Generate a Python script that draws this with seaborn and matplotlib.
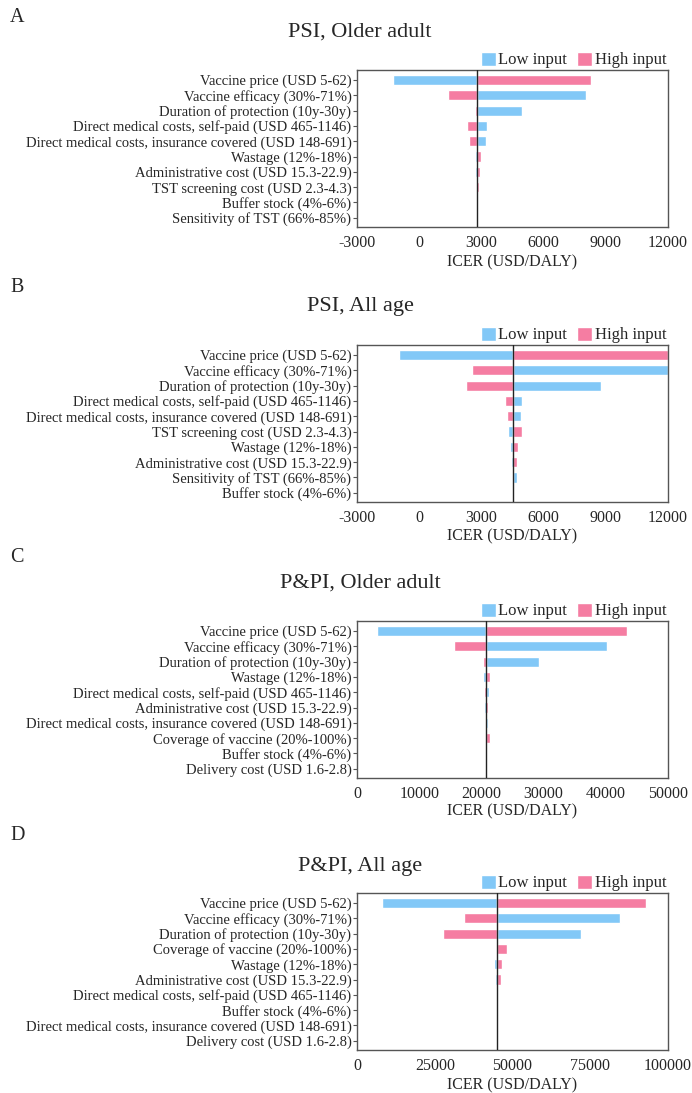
import matplotlib
matplotlib.use("Agg")
import matplotlib.pyplot as plt
import seaborn as sns
import numpy as np

sns.set_theme(style="white")
plt.rcParams['font.family'] = ['Liberation Serif', 'DejaVu Serif']

# ---------------- data ----------------
titles = ["PSI, Older adult", "PSI, All age", "P&PI, Older adult", "P&PI, All age"]
letters = ["A", "B", "C", "D"]

labels_a = ["Vaccine price (USD 5-62)", "Vaccine efficacy (30%-71%)", "Duration of protection (10y-30y)",
            "Direct medical costs, self-paid (USD 465-1146)", "Direct medical costs, insurance covered (USD 148-691)",
            "Wastage (12%-18%)", "Administrative cost (USD 15.3-22.9)", "TST screening cost (USD 2.3-4.3)",
            "Buffer stock (4%-6%)", "Sensitivity of TST (66%-85%)"]
base_a = 2810
low_a = [-1250, 8030, 4960, 3290, 3200, 2680, 2700, 2780, 2790, 2830]
high_a = [8270, 1380, 2680, 2310, 2390, 2970, 2930, 2880, 2860, 2800]

labels_b = ["Vaccine price (USD 5-62)", "Vaccine efficacy (30%-71%)", "Duration of protection (10y-30y)",
            "Direct medical costs, self-paid (USD 465-1146)", "Direct medical costs, insurance covered (USD 148-691)",
            "TST screening cost (USD 2.3-4.3)", "Wastage (12%-18%)", "Administrative cost (USD 15.3-22.9)",
            "Sensitivity of TST (66%-85%)", "Buffer stock (4%-6%)"]
base_b = 4530
low_b = [-990, 12000, 8790, 4980, 4900, 4300, 4380, 4430, 4720, 4500]
high_b = [12000, 2550, 2275, 4140, 4220, 4945, 4750, 4720, 4480, 4580]

labels_c = ["Vaccine price (USD 5-62)", "Vaccine efficacy (30%-71%)", "Duration of protection (10y-30y)",
            "Wastage (12%-18%)", "Direct medical costs, self-paid (USD 465-1146)", "Administrative cost (USD 15.3-22.9)",
            "Direct medical costs, insurance covered (USD 148-691)", "Coverage of vaccine (20%-100%)",
            "Buffer stock (4%-6%)", "Delivery cost (USD 1.6-2.8)"]
base_c = 20800
low_c = [3210, 40190, 29210, 20260, 21220, 20420, 21000, 20800, 20750, 20780]
high_c = [43470, 15550, 20260, 21380, 20420, 21060, 20600, 21380, 20900, 20830]

labels_d = ["Vaccine price (USD 5-62)", "Vaccine efficacy (30%-71%)", "Duration of protection (10y-30y)",
            "Coverage of vaccine (20%-100%)", "Wastage (12%-18%)", "Administrative cost (USD 15.3-22.9)",
            "Direct medical costs, self-paid (USD 465-1146)", "Buffer stock (4%-6%)",
            "Direct medical costs, insurance covered (USD 148-691)", "Delivery cost (USD 1.6-2.8)"]
base_d = 45140
low_d = [8040, 84560, 72150, 45140, 44060, 44370, 45400, 45300, 45300, 45250]
high_d = [93050, 34430, 27640, 48350, 46630, 46300, 45000, 45000, 45000, 45050]

xlims = [(-3000, 12000), (-3000, 12000), (0, 50000), (0, 100000)]
xticks = [[-3000, 0, 3000, 6000, 9000, 12000], [-3000, 0, 3000, 6000, 9000, 12000],
          [0, 10000, 20000, 30000, 40000, 50000], [0, 25000, 50000, 75000, 100000]]

blue = "#82C8F7"
pink = "#F57DA2"

panels = [
    (labels_a, base_a, low_a, high_a),
    (labels_b, base_b, low_b, high_b),
    (labels_c, base_c, low_c, high_c),
    (labels_d, base_d, low_d, high_d),
]

W, H = 692, 1093
fig = plt.figure(figsize=(W / 100, H / 100), dpi=100)
fig.patch.set_facecolor("white")

ax_tops = [70, 345, 621, 893]
ax_h = 157
title_y = [32, 306, 583, 867]
letter_y = [18, 288, 557, 835]
xlabel_y = [262, 536, 811, 1085]
ax_left, ax_right = 357, 668

for i, (labels, base, low, high) in enumerate(panels):
    top = ax_tops[i]
    ax = fig.add_axes([ax_left / W, 1 - (top + ax_h) / H, (ax_right - ax_left) / W, ax_h / H])
    y = np.arange(len(labels))
    low = np.asarray(low, dtype=float)
    high = np.asarray(high, dtype=float)
    ax.barh(y, low - base, left=base, height=0.66, color=blue, label="Low input", zorder=2)
    ax.barh(y, high - base, left=base, height=0.66, color=pink, label="High input", zorder=2)
    ax.axvline(base, color="#222222", lw=1.0, zorder=3)
    ax.set_xlim(*xlims[i])
    ax.set_ylim(len(labels) - 0.4, -0.65)
    ax.set_yticks(y)
    ax.set_yticklabels(labels, fontsize=10.5)
    ax.set_xticks(xticks[i])
    ax.set_xticklabels([str(t) for t in xticks[i]], fontsize=11.5)
    ax.tick_params(axis="y", which="both", left=True, length=3, width=0.8, pad=1, color="#555555")
    ax.tick_params(axis="x", which="both", bottom=False, length=0, pad=6)
    for sp in ax.spines.values():
        sp.set_color("#555555")
        sp.set_linewidth(1.0)
    ax.legend(loc="lower right", bbox_to_anchor=(1.0, 1.0), ncol=2, frameon=False,
              fontsize=12, handlelength=0.9, handleheight=0.9, handletextpad=0.15,
              columnspacing=0.6, borderaxespad=0.1, borderpad=0.0)
    fig.text(360 / W, 1 - title_y[i] / H, titles[i], ha="center", va="center", fontsize=16)
    fig.text(10 / W, 1 - letter_y[i] / H, letters[i], ha="left", va="center", fontsize=14.5)
    fig.text(512 / W, 1 - xlabel_y[i] / H, "ICER (USD/DALY)", ha="center", va="center", fontsize=11.5)

fig.savefig("out.png", dpi=100, facecolor="white")
